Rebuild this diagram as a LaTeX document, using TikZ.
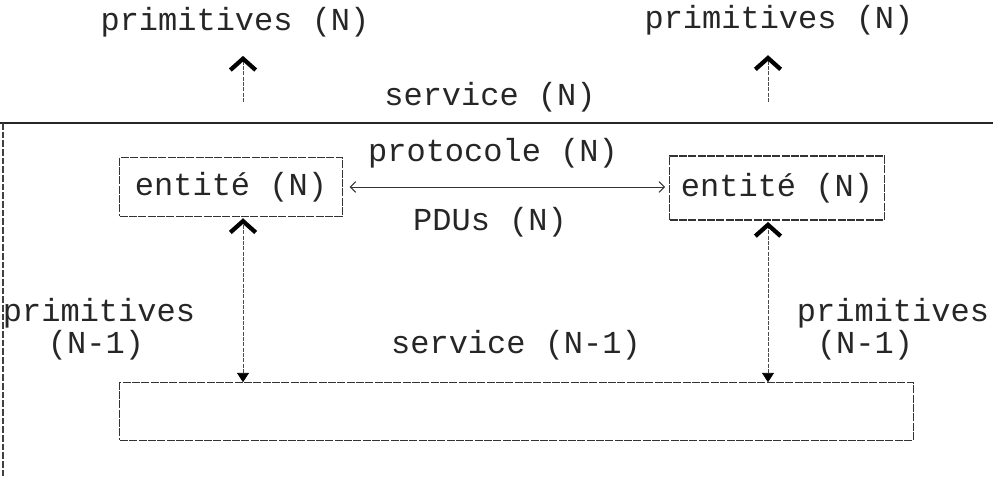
\documentclass[tikz,border=0pt]{standalone}
\usepackage{fontspec}
\setmonofont{Liberation Mono}
\usetikzlibrary{arrows.meta}
\begin{document}
\begin{tikzpicture}[x=0.75pt,y=-0.75pt,
  lbl/.style={font=\ttfamily\fontsize{24}{30}\selectfont, text=black!85, inner sep=0pt},
  entbox/.style={draw=black!80, line width=0.9pt, dash pattern=on 6pt off 1pt, inner sep=0pt},
  link/.style={draw=black!70, line width=0.6pt, dash pattern=on 3pt off 1pt},
  bighead/.style={-{Straight Barb[length=8.5pt,width=19pt,line width=3.2pt,color=black]}},
  twohead/.style={{Triangle[length=7pt,width=9pt,color=black]}-{Straight Barb[length=8.5pt,width=19pt,line width=3.2pt,color=black]}}
]
\useasboundingbox (0,0) rectangle (993,477);
% top labels
\node[lbl] (pNL) at (235,22) {primitives (N)};
\node[lbl] (pNR) at (779,20) {primitives (N)};
\node[lbl] (sN) at (490,97) {service (N)};
\coordinate (aL) at (243,102);
\coordinate (aR) at (768,102);
\draw[link,bighead] (aL) -- ([yshift=-14pt]aL |- pNL.south);
\draw[link,bighead] (aR) -- ([yshift=-15pt]aR |- pNR.south);
% separator lines
\coordinate (hl0) at (0,123);
\coordinate (hl1) at (993,123);
\draw[line width=1.6pt, black!85] (hl0) -- (hl1);
\coordinate (vl0) at (3,123);
\coordinate (vl1) at (3,477);
\draw[draw=black!75, line width=1pt, dash pattern=on 5pt off 1.5pt] (vl0) -- (vl1);
% entities
\node[entbox, minimum width=167pt, minimum height=44pt] (eL) at (231,187) {};
\node[lbl] at (eL.center) {entit\'e (N)};
\node[entbox, minimum width=161pt, minimum height=48pt] (eR) at (777,188) {};
\node[lbl] at (eR.center) {entit\'e (N)};
\draw[black!80, line width=0.7pt, {Straight Barb[length=4pt,width=8pt,line width=0.8pt]}-{Straight Barb[length=4pt,width=8pt,line width=0.8pt]}, shorten <=5pt, shorten >=3pt] (eL.east) -- (eR.west |- eL.east);
\node[lbl] (prot) at (493,153) {protocole (N)};
\node[lbl] (pdu) at (490,222) {PDUs (N)};
% lower box
\node[entbox, minimum width=595pt, minimum height=43pt] (low) at (516.5,411.5) {};
% vertical links
\draw[link, twohead] ([xshift=9pt]eL.south |- low.north) -- ([xshift=9pt,yshift=-1pt]eL.south);
\coordinate (rx) at (768,0);
\draw[link, twohead] (rx |- low.north) -- ([yshift=-1pt]rx |- eR.south);
% lower labels
\node[lbl] (pl1) at (99,313) {primitives};
\node[lbl] (pl2) at (96,345) {(N-1)};
\node[lbl] (sN1) at (516,345) {service (N-1)};
\node[lbl] (pr1) at (893,313) {primitives};
\node[lbl] (pr2) at (865,345) {(N-1)};
\end{tikzpicture}
\end{document}
